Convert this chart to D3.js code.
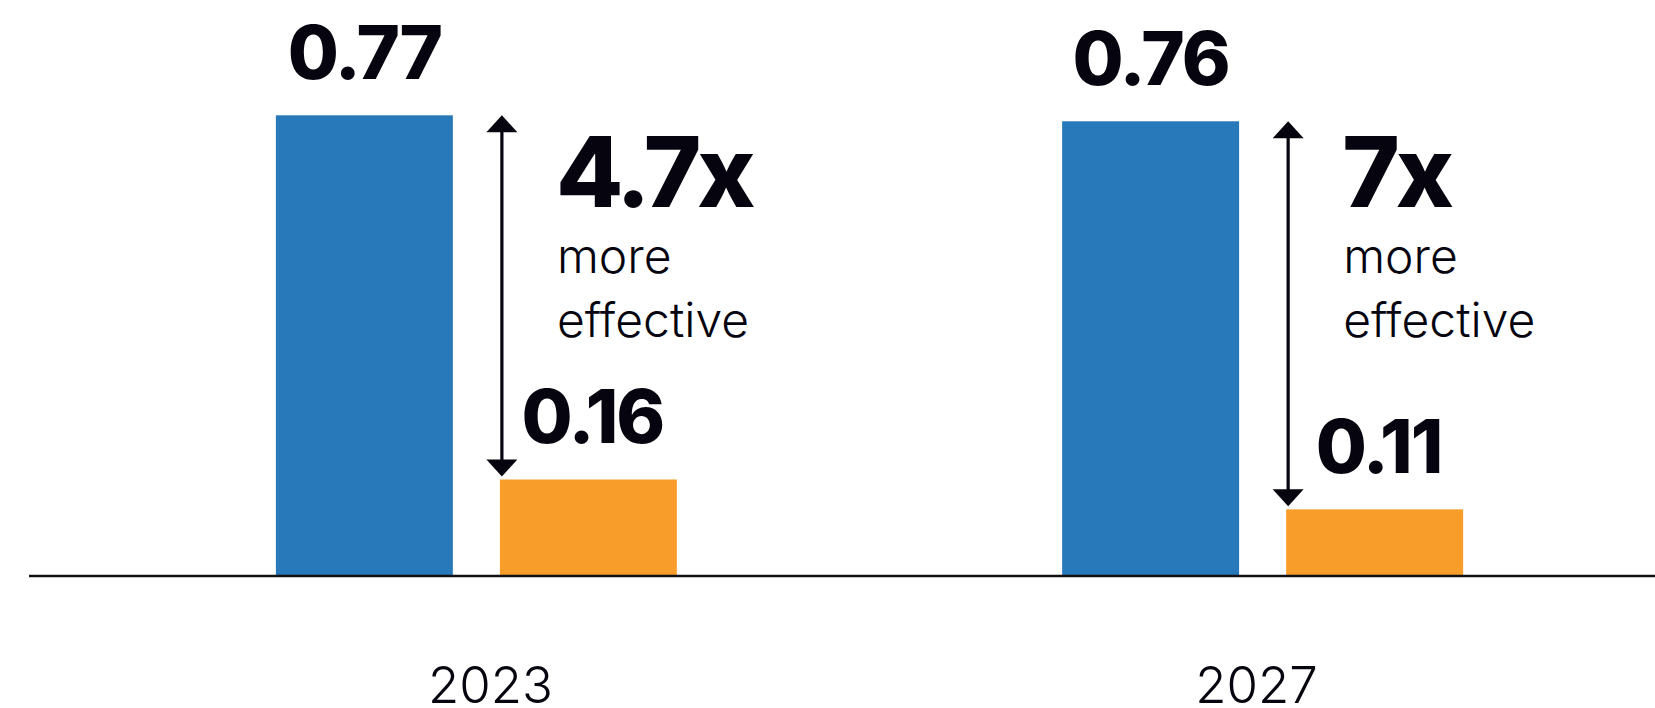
<!DOCTYPE html>
<html>
<head>
<meta charset="utf-8">
<script src="https://cdn.jsdelivr.net/npm/d3@7"></script>
<style>
  html, body { margin: 0; padding: 0; background: #ffffff; }
  svg { display: block; }
</style>
</head>
<body>
<svg id="chart" width="1655" height="708"></svg>
<script>
// ---- data ----
const years = ["2023", "2027"];
const seriesKeys = ["high", "low"];
const highValues = [0.77, 0.76];
const lowValues = [0.16, 0.11];
const highLabels = ["0.77", "0.76"];
const lowLabels = ["0.16", "0.11"];
const ratioLabels = ["4.7x", "7x"];
const noteLines = ["more", "effective"];

// ---- styles ----
const W = 1655, H = 708;
const colors = { high: "#2779ba", low: "#f99d2a" };
const ink = "#05040f";
const boldFont = "Inter, 'Noto Sans', sans-serif";
const lightFont = "Inter, 'Noto Sans', sans-serif";

const svg = d3.select("#chart");

const baseY = 575;
const x0 = d3.scaleBand().domain(years).range([40, 1699]).paddingInner(0.49).paddingOuter(0.3);
const x1 = d3.scaleBand().domain(seriesKeys).range([0, x0.bandwidth()]).paddingInner(0.21).paddingOuter(0);
const xLabel = d3.scalePoint().domain(years).range([490, 1256]);
const y = d3.scaleLinear().domain([0, 1]).range([baseY, baseY - 597]);

const rows = years.map((yr, i) => ({
  year: yr,
  vals: [
    { key: "high", v: highValues[i], label: highLabels[i] },
    { key: "low", v: lowValues[i], label: lowLabels[i] }
  ],
  ratio: ratioLabels[i]
}));

const g = svg.selectAll("g.group").data(rows).join("g")
  .attr("class", "group")
  .attr("transform", d => `translate(${x0(d.year)},0)`);

// bars
g.selectAll("rect").data(d => d.vals).join("rect")
  .attr("x", d => x1(d.key))
  .attr("width", x1.bandwidth())
  .attr("y", d => y(d.v))
  .attr("height", d => baseY - y(d.v))
  .attr("fill", d => colors[d.key]);

// value labels
g.selectAll("text.val").data(d => d.vals).join("text")
  .attr("class", "val")
  .attr("x", d => x1(d.key) + x1.bandwidth() / 2 + (d.key === "low" ? 4 : 0))
  .attr("y", d => y(d.v) - 36)
  .attr("text-anchor", "middle")
  .attr("font-family", boldFont)
  .attr("font-weight", 800)
  .attr("font-size", 74)
  .attr("letter-spacing", -2)
  .attr("fill", ink)
  .text(d => d.label);

// arrows
const arrowX = x1("low") + 2;
g.each(function(d) {
  const gg = d3.select(this);
  const yTop = y(d.vals[0].v);
  const yBot = y(d.vals[1].v) - 3;
  const hw = 15.5, hh = 17;
  gg.append("line")
    .attr("x1", arrowX).attr("x2", arrowX)
    .attr("y1", yTop + hh - 2).attr("y2", yBot - hh + 2)
    .attr("stroke", ink).attr("stroke-width", 3.2);
  gg.append("path")
    .attr("d", `M${arrowX},${yTop} L${arrowX + hw},${yTop + hh} L${arrowX - hw},${yTop + hh} Z`)
    .attr("fill", ink);
  gg.append("path")
    .attr("d", `M${arrowX},${yBot} L${arrowX + hw},${yBot - hh} L${arrowX - hw},${yBot - hh} Z`)
    .attr("fill", ink);

  gg.append("text")
    .attr("x", x1("low") + 56)
    .attr("y", 207)
    .attr("font-family", boldFont)
    .attr("font-weight", 800)
    .attr("font-size", 98)
    .attr("letter-spacing", -4)
    .attr("fill", ink)
    .text(d.ratio);

  gg.selectAll("text.note").data(noteLines).join("text")
    .attr("class", "note")
    .attr("x", x1("low") + 57)
    .attr("y", (t, i) => 273 + i * 64)
    .attr("font-family", lightFont)
    .attr("font-weight", 300)
    .attr("font-size", 48)
    .attr("fill", ink)
    .text(t => t);
});

// baseline axis
svg.append("line")
  .attr("x1", 29).attr("x2", W)
  .attr("y1", baseY + 1).attr("y2", baseY + 1)
  .attr("stroke", "#111").attr("stroke-width", 2.5);

// x axis labels
const xAxis = d3.axisBottom(xLabel).tickSize(0).tickPadding(0);
const ax = svg.append("g").attr("transform", `translate(0,${baseY})`).call(xAxis);
ax.select(".domain").remove();
ax.selectAll(".tick text")
  .attr("dy", 0)
  .attr("y", 128)
  .attr("font-family", lightFont)
  .attr("font-weight", 300)
  .attr("font-size", 51)
  .attr("fill", ink);
</script>
</body>
</html>
